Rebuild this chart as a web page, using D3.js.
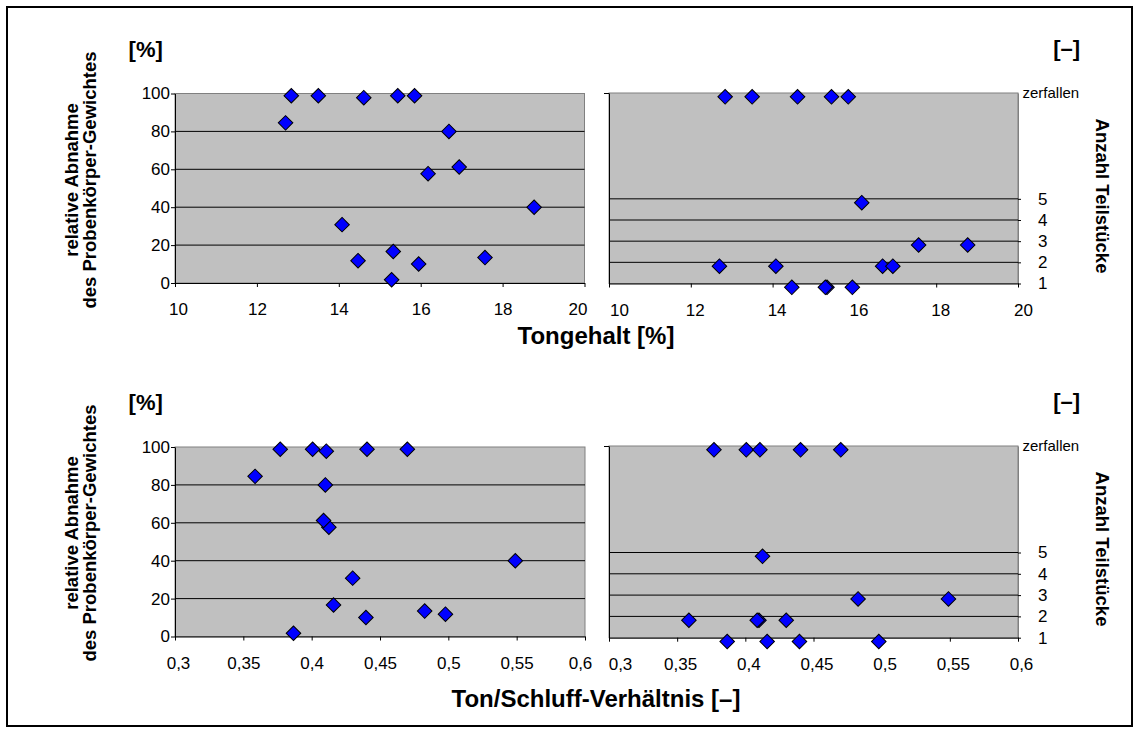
<!doctype html>
<html>
<head>
<meta charset="utf-8"/>
<title>Abnahme Probenkörper-Gewicht</title>
<script src="https://d3js.org/d3.v7.min.js"></script>
<style>
	body { margin: 0; background: #fff; }
	text { font-family: "Liberation Sans", Arial, sans-serif; fill: #000; }
	.tick text { font-size: 17px; }
	.bold { font-weight: bold; }
</style>
</head>
<body>
<svg id="chart"></svg>
<script>
	// Messwerte je Probe (gleiche Reihenfolge in allen Arrays)
	var tonGehalt   = [12.84, 13.50, 14.61, 15.44, 15.85, 12.70, 16.69, 16.18, 16.94, 18.77, 14.08, 15.33, 14.47, 15.95, 17.57, 15.29];
	var tonSchluff  = [0.377, 0.4007, 0.4107, 0.4405, 0.470, 0.3586, 0.410, 0.4126, 0.4087, 0.549, 0.430, 0.416, 0.4979, 0.4397, 0.4827, 0.3867];
	var abnahme     = [98.8, 98.8, 97.8, 98.8, 98.8, 84.5, 80.0, 57.7, 61.2, 40.0, 30.8, 16.6, 11.8, 10.0, 13.4, 1.7];
	var teilstuecke = [10, 10, 10, 10, 10, 2, 2, 5, 2, 3, 2, 1, 1, 1, 3, 1]; // 10 = zerfallen

	var tonTicks     = [10, 12, 14, 16, 18, 20];
	var ratioTicks   = [0.3, 0.35, 0.4, 0.45, 0.5, 0.55, 0.6];
	var abnahmeTicks = [0, 20, 40, 60, 80, 100];
	var countTicks   = [1, 2, 3, 4, 5];
	var zerfallenWert = 10;

	var width = 1139, height = 733;
	var svg = d3.select("#chart").attr("width", width).attr("height", height);

	// Rahmen
	svg.append("rect")
		.attr("x", 7).attr("y", 7)
		.attr("width", 1125).attr("height", 719)
		.attr("fill", "#fff").attr("stroke", "#000").attr("stroke-width", 2);

	var deFormat = function (d) { return String(d).replace(".", ","); };
	var markerShift = 0.18; // Excel zeichnet die Punkte etwas unterhalb der Gitterlinien

	function drawPanel(p) {
		var g = svg.append("g");
		var x = d3.scaleLinear().domain([p.xTicks[0], p.xTicks[p.xTicks.length - 1]]).range([p.left, p.right]);
		var y = d3.scaleLinear().domain(p.yDomain).range([p.bottom, p.top]);

		// Zeichenfläche
		g.append("rect")
			.attr("x", p.left).attr("y", p.top)
			.attr("width", p.right - p.left).attr("height", p.bottom - p.top)
			.attr("fill", "#c0c0c0").attr("stroke", "#808080").attr("stroke-width", 1);

		if (p.kind == "loss") {
			g.selectAll(".grid")
				.data(abnahmeTicks.slice(1, -1))
				.enter().append("line")
				.attr("x1", p.left).attr("x2", p.right)
				.attr("y1", function (d) { return y(d); })
				.attr("y2", function (d) { return y(d); })
				.attr("stroke", "#000");

			var yAxis = d3.axisLeft(y).tickValues(abnahmeTicks).tickSize(4).tickSizeOuter(0).tickPadding(1);
			g.append("g").attr("transform", "translate(" + p.left + ",0)").call(yAxis)
				.select(".domain").attr("stroke", "#000");
		} else {
			g.selectAll(".grid")
				.data(countTicks.slice(1))
				.enter().append("line")
				.attr("x1", p.left).attr("x2", p.right)
				.attr("y1", function (d) { return y(d); })
				.attr("y2", function (d) { return y(d); })
				.attr("stroke", "#000");

			// linke Achse nur als Linie mit Strich oben
			g.append("g").attr("transform", "translate(" + p.left + ",0)")
				.call(d3.axisLeft(y).tickValues([zerfallenWert]).tickFormat("").tickSize(5).tickSizeOuter(0));

			// rechte Beschriftung 1..5
			var rAxis = d3.axisRight(y).tickValues(countTicks).tickSize(3).tickSizeOuter(0).tickPadding(17);
			var ra = g.append("g").attr("transform", "translate(" + p.right + ",0)").call(rAxis);
			ra.select(".domain").attr("stroke", "#808080");

			g.append("text")
				.attr("x", p.right + 4.5)
				.attr("y", y(zerfallenWert))
				.attr("dy", "0.35em")
				.style("font-size", "15px")
				.text("zerfallen");
		}

		var xAxis = d3.axisBottom(x).tickValues(p.xTicks).tickSize(4).tickSizeOuter(0).tickPadding(16).tickFormat(deFormat);
		var xa = g.append("g").attr("transform", "translate(0," + p.bottom + ")").call(xAxis);
		xa.select(".domain").attr("stroke", "#000");
		// Excel rückt die Beschriftung etwas nach innen
		var n = p.xTicks.length;
		xa.selectAll(".tick text").attr("x", function (d, i) {
			return i == 0 ? p.labelShift[0] : (i == n - 1 ? p.labelShift[2] : p.labelShift[1]);
		});

		// Punkte
		var pts = p.xs.map(function (d, i) {
			return { x: d, y: p.kind == "loss" ? abnahme[i] : teilstuecke[i] - markerShift };
		});
		g.selectAll(".pt")
			.data(pts)
			.enter().append("path")
			.attr("d", d3.symbol().type(d3.symbolSquare).size(106))
			.attr("transform", function (d) { return "translate(" + x(d.x) + "," + y(d.y) + ") rotate(45)"; })
			.attr("fill", "#0000ff")
			.attr("stroke", "#000")
			.attr("stroke-width", 1);
	}

	drawPanel({ kind: "loss", left: 175, right: 584.5, top: 93.5, bottom: 283, yDomain: [0, 100], xTicks: tonTicks, xs: tonGehalt, labelShift: [3, 0, -7] });
	drawPanel({ kind: "count", left: 609, right: 1018, top: 93, bottom: 283.5, yDomain: [1, 10], xTicks: tonTicks, xs: tonGehalt, labelShift: [10, 4, 5] });
	drawPanel({ kind: "loss", left: 175, right: 585, top: 447, bottom: 636.5, yDomain: [0, 100], xTicks: ratioTicks, xs: tonSchluff, labelShift: [3, 0, -5] });
	drawPanel({ kind: "count", left: 609, right: 1018, top: 446, bottom: 637.7, yDomain: [1, 10], xTicks: ratioTicks, xs: tonSchluff, labelShift: [11, 3, 3] });

	// Achsentitel
	[{ off: 0, title: "Tongehalt [%]", base: 344 }, { off: 353, title: "Ton/Schluff-Verhältnis [–]", base: 706.5 }].forEach(function (r) {
		svg.append("text").attr("class", "bold")
			.attr("x", 145.7).attr("y", 57 + r.off)
			.attr("text-anchor", "middle").style("font-size", "22px")
			.text("[%]");
		svg.append("text").attr("class", "bold")
			.attr("x", 1066.7).attr("y", 56 + r.off)
			.attr("text-anchor", "middle").style("font-size", "22px")
			.text("[–]");

		svg.append("text").attr("class", "bold")
			.attr("transform", "translate(77.8," + (180 + r.off) + ") rotate(-90)")
			.attr("text-anchor", "middle").style("font-size", "18.5px")
			.text("relative Abnahme");
		svg.append("text").attr("class", "bold")
			.attr("transform", "translate(96.1," + (180 + r.off) + ") rotate(-90)")
			.attr("text-anchor", "middle").style("font-size", "18.5px")
			.text("des Probenkörper-Gewichtes");

		svg.append("text").attr("class", "bold")
			.attr("transform", "translate(1095.6," + (196 + r.off) + ") rotate(90)")
			.attr("text-anchor", "middle").style("font-size", "18.5px")
			.text("Anzahl Teilstücke");

		svg.append("text").attr("class", "bold")
			.attr("x", 596).attr("y", r.base)
			.attr("text-anchor", "middle").style("font-size", "24px")
			.text(r.title);
	});
</script>
</body>
</html>
